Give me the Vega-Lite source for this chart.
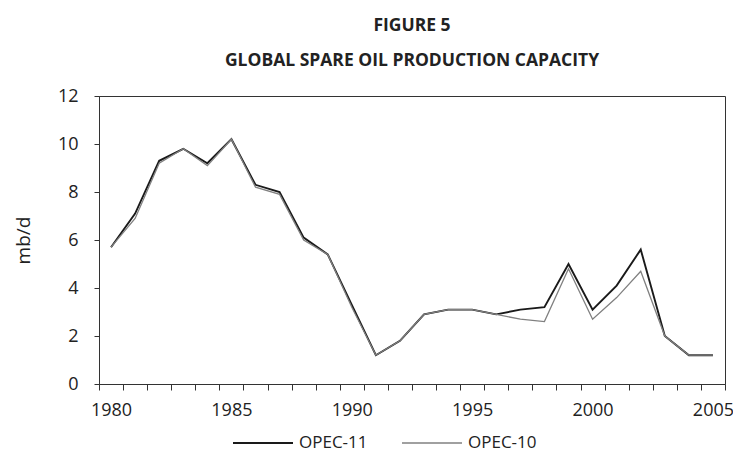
{
  "$schema": "https://vega.github.io/schema/vega-lite/v6.json",
  "width": 626,
  "height": 288,
  "autosize": {"type": "none"},
  "padding": {"left": 99, "top": 96, "right": 8, "bottom": 76},
  "background": "white",
  "title": {
    "text": ["FIGURE 5", "GLOBAL SPARE OIL PRODUCTION CAPACITY"],
    "anchor": "middle",
    "frame": "group",
    "font": "Open Sans",
    "fontSize": 17.5,
    "fontWeight": "bold",
    "color": "#222",
    "lineHeight": 35,
    "baseline": "alphabetic",
    "offset": 4
  },
  "data": {
    "values": [
      {"year": 1980, "series": "OPEC-11", "value": 5.7},
      {"year": 1981, "series": "OPEC-11", "value": 7.1},
      {"year": 1982, "series": "OPEC-11", "value": 9.3},
      {"year": 1983, "series": "OPEC-11", "value": 9.8},
      {"year": 1984, "series": "OPEC-11", "value": 9.2},
      {"year": 1985, "series": "OPEC-11", "value": 10.2},
      {"year": 1986, "series": "OPEC-11", "value": 8.3},
      {"year": 1987, "series": "OPEC-11", "value": 8.0},
      {"year": 1988, "series": "OPEC-11", "value": 6.1},
      {"year": 1989, "series": "OPEC-11", "value": 5.4},
      {"year": 1990, "series": "OPEC-11", "value": 3.3},
      {"year": 1991, "series": "OPEC-11", "value": 1.2},
      {"year": 1992, "series": "OPEC-11", "value": 1.8},
      {"year": 1993, "series": "OPEC-11", "value": 2.9},
      {"year": 1994, "series": "OPEC-11", "value": 3.1},
      {"year": 1995, "series": "OPEC-11", "value": 3.1},
      {"year": 1996, "series": "OPEC-11", "value": 2.9},
      {"year": 1997, "series": "OPEC-11", "value": 3.1},
      {"year": 1998, "series": "OPEC-11", "value": 3.2},
      {"year": 1999, "series": "OPEC-11", "value": 5.0},
      {"year": 2000, "series": "OPEC-11", "value": 3.1},
      {"year": 2001, "series": "OPEC-11", "value": 4.1},
      {"year": 2002, "series": "OPEC-11", "value": 5.6},
      {"year": 2003, "series": "OPEC-11", "value": 2.0},
      {"year": 2004, "series": "OPEC-11", "value": 1.2},
      {"year": 2005, "series": "OPEC-11", "value": 1.2},
      {"year": 1980, "series": "OPEC-10", "value": 5.7},
      {"year": 1981, "series": "OPEC-10", "value": 6.9},
      {"year": 1982, "series": "OPEC-10", "value": 9.2},
      {"year": 1983, "series": "OPEC-10", "value": 9.8},
      {"year": 1984, "series": "OPEC-10", "value": 9.1},
      {"year": 1985, "series": "OPEC-10", "value": 10.2},
      {"year": 1986, "series": "OPEC-10", "value": 8.2},
      {"year": 1987, "series": "OPEC-10", "value": 7.9},
      {"year": 1988, "series": "OPEC-10", "value": 6.0},
      {"year": 1989, "series": "OPEC-10", "value": 5.4},
      {"year": 1990, "series": "OPEC-10", "value": 3.2},
      {"year": 1991, "series": "OPEC-10", "value": 1.2},
      {"year": 1992, "series": "OPEC-10", "value": 1.8},
      {"year": 1993, "series": "OPEC-10", "value": 2.9},
      {"year": 1994, "series": "OPEC-10", "value": 3.1},
      {"year": 1995, "series": "OPEC-10", "value": 3.1},
      {"year": 1996, "series": "OPEC-10", "value": 2.9},
      {"year": 1997, "series": "OPEC-10", "value": 2.7},
      {"year": 1998, "series": "OPEC-10", "value": 2.6},
      {"year": 1999, "series": "OPEC-10", "value": 4.8},
      {"year": 2000, "series": "OPEC-10", "value": 2.7},
      {"year": 2001, "series": "OPEC-10", "value": 3.6},
      {"year": 2002, "series": "OPEC-10", "value": 4.7},
      {"year": 2003, "series": "OPEC-10", "value": 2.0},
      {"year": 2004, "series": "OPEC-10", "value": 1.2},
      {"year": 2005, "series": "OPEC-10", "value": 1.2}
    ]
  },
  "mark": {"type": "line", "strokeJoin": "miter"},
  "encoding": {
    "x": {
      "field": "year",
      "type": "quantitative",
      "scale": {"domain": [1979.5, 2005.5], "nice": false, "zero": false},
      "axis": {
        "title": null,
        "values": [1979.5, 1980.5, 1981.5, 1982.5, 1983.5, 1984.5, 1985.5, 1986.5, 1987.5, 1988.5, 1989.5, 1990.5, 1991.5, 1992.5, 1993.5, 1994.5, 1995.5, 1996.5, 1997.5, 1998.5, 1999.5, 2000.5, 2001.5, 2002.5, 2003.5, 2004.5, 2005.5],
        "labelExpr": "(datum.value + 0.5) % 5 == 0 ? format(datum.value + 0.5, 'd') : ''",
        "labelOffset": 12,
        "labelFlush": false,
        "labelOverlap": false,
        "labelBound": false,
        "tickSize": 6,
        "labelPadding": 11,
        "grid": false
      }
    },
    "y": {
      "field": "value",
      "type": "quantitative",
      "scale": {"domain": [0, 12], "nice": false},
      "axis": {
        "title": "mb/d",
        "values": [0, 2, 4, 6, 8, 10, 12],
        "tickSize": 5,
        "labelPadding": 16,
        "titlePadding": 24,
        "grid": false
      }
    },
    "color": {
      "field": "series",
      "type": "nominal",
      "scale": {"domain": ["OPEC-11", "OPEC-10"], "range": ["#1a1a1a", "#808080"]},
      "legend": {
        "title": null,
        "orient": "none",
        "direction": "horizontal",
        "legendX": 133,
        "legendY": 316,
        "symbolType": "stroke",
        "symbolSize": 3600,
        "labelOffset": 5,
        "columnPadding": 31
      }
    },
    "strokeWidth": {
      "field": "series",
      "type": "nominal",
      "scale": {"domain": ["OPEC-11", "OPEC-10"], "range": [1.9, 1.3]},
      "legend": null
    },
    "order": {"field": "year"}
  },
  "config": {
    "font": "Open Sans",
    "view": {"stroke": "#333", "strokeWidth": 1},
    "axis": {
      "domainColor": "#333",
      "tickColor": "#333",
      "labelColor": "#222",
      "titleColor": "#222",
      "labelFont": "Open Sans",
      "labelFontSize": 18,
      "titleFont": "Open Sans",
      "titleFontSize": 19,
      "titleFontWeight": "normal"
    },
    "legend": {
      "labelFont": "Open Sans",
      "labelFontSize": 17,
      "labelColor": "#222",
      "symbolStrokeWidth": 2
    }
  }
}
